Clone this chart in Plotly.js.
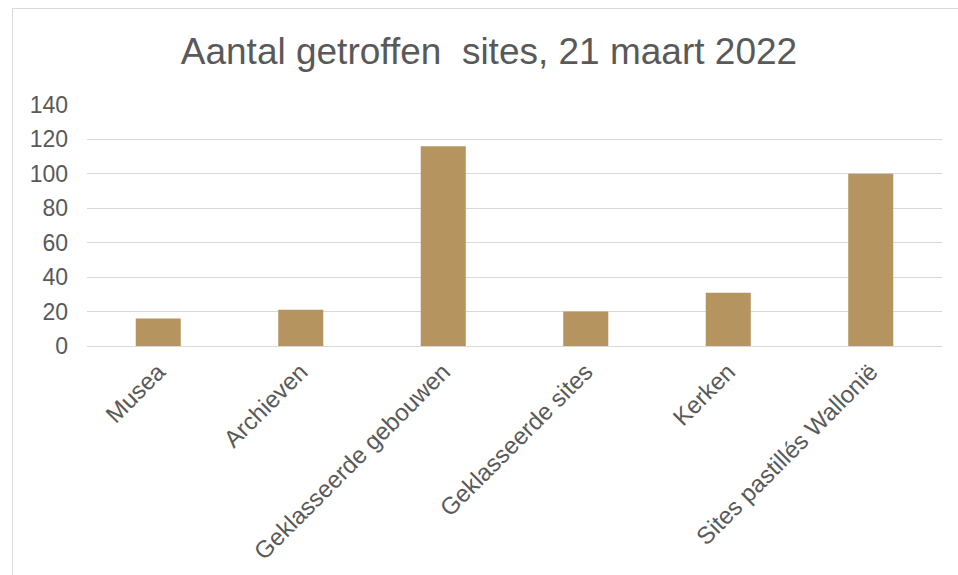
<!DOCTYPE html>
<html>
<head>
<meta charset="utf-8">
<script src="https://cdn.plot.ly/plotly-3.0.1.min.js"></script>
<style>
  html, body { margin: 0; padding: 0; background: #ffffff; overflow: hidden; }
  #chart { position: absolute; left: 0; top: 0; width: 958px; height: 575px; }
  #frame { position: absolute; left: 12px; top: 8px; width: 960px; height: 600px;
           border-left: 1px solid #d9d9d9; border-top: 1px solid #d9d9d9; pointer-events: none; }
</style>
</head>
<body>
<div id="chart"></div>
<div id="frame"></div>
<script>
const categories = ["Musea", "Archieven", "Geklasseerde gebouwen", "Geklasseerde sites", "Kerken", "Sites pastillés Wallonië"];
const values = [16, 21, 116, 20, 31, 100];
const yTicks = [0, 20, 40, 60, 80, 100, 120, 140];
const titleText = "Aantal getroffen  sites, 21 maart 2022";

const font = "Liberation Sans, Arial, sans-serif";
const textColor = "#595959";

const trace = {
  type: "bar",
  x: categories,
  y: values,
  marker: { color: "#b5945f", line: { width: 0 } },
  hoverinfo: "x+y"
};

const layout = {
  width: 958,
  height: 575,
  paper_bgcolor: "rgba(0,0,0,0)",
  plot_bgcolor: "rgba(0,0,0,0)",
  margin: { l: 87, r: 16, t: 105, b: 229, pad: 0 },
  bargap: 0.684,
  showlegend: false,
  font: { family: font, color: textColor },
  title: {
    text: titleText,
    font: { family: font, size: 37, color: textColor },
    xref: "container", x: 0.5104, xanchor: "center",
    yref: "container", y: 0.912, yanchor: "middle"
  },
  xaxis: {
    type: "category",
    tickangle: -45,
    tickfont: { family: font, size: 24, color: textColor },
    showgrid: false,
    showline: false,
    zeroline: false,
    ticks: "",
    ticklabelstandoff: 6
  },
  yaxis: {
    range: [0, 140],
    tickvals: yTicks,
    ticktext: yTicks.map(String),
    tickfont: { family: font, size: 23, color: textColor },
    showgrid: true,
    gridcolor: "#d9d9d9",
    gridwidth: 1,
    zeroline: true,
    zerolinecolor: "#d9d9d9",
    zerolinewidth: 1,
    showline: false,
    ticks: "",
    ticklabelstandoff: 18
  }
};

Plotly.newPlot("chart", [trace], layout, { displayModeBar: false, staticPlot: true });
</script>
</body>
</html>
